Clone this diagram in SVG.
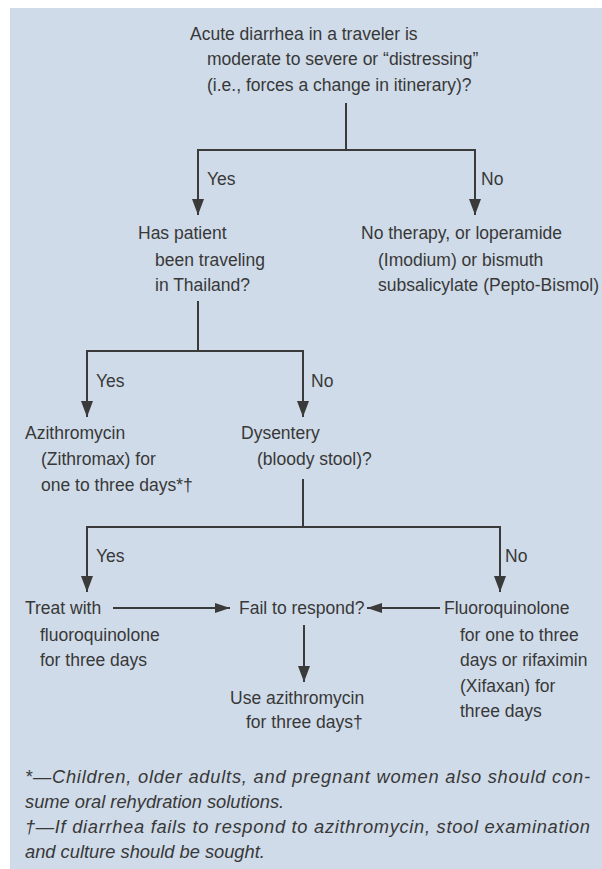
<svg xmlns="http://www.w3.org/2000/svg" width="602" height="869" viewBox="0 0 602 869">
<defs>
<style>
text{font-family:"Liberation Sans",Arial,sans-serif;font-size:17.5px;fill:#383838}
.fn{font-style:italic;font-size:18.3px}
.ln{fill:none;stroke:#3a3a3a;stroke-width:2}
</style>
<marker id="arrV" markerUnits="userSpaceOnUse" orient="auto" markerWidth="16" markerHeight="12" refX="16" refY="6" viewBox="0 0 16 12"><path d="M0,0 L16,6 L0,12 z" fill="#3a3a3a"/></marker>
<marker id="arrH" markerUnits="userSpaceOnUse" orient="auto" markerWidth="15" markerHeight="10" refX="15" refY="5" viewBox="0 0 15 10"><path d="M0,0 L15,5 L0,10 z" fill="#3a3a3a"/></marker>
</defs>
<rect x="0" y="0" width="602" height="869" fill="#ffffff"/>
<rect x="10" y="8" width="592" height="861" fill="#cfdbe8"/>

<g id="connectors">
<path class="ln" d="M346,103 V150"/>
<path class="ln" d="M346,150 H198 V215" marker-end="url(#arrV)"/>
<path class="ln" d="M346,150 H475 V215" marker-end="url(#arrV)"/>
<path class="ln" d="M198,301 V351"/>
<path class="ln" d="M198,351 H87 V417" marker-end="url(#arrV)"/>
<path class="ln" d="M198,351 H303 V417" marker-end="url(#arrV)"/>
<path class="ln" d="M303,479 V527"/>
<path class="ln" d="M303,527 H87 V592" marker-end="url(#arrV)"/>
<path class="ln" d="M303,527 H500 V592" marker-end="url(#arrV)"/>
<path class="ln" d="M113,608 H230" marker-end="url(#arrH)"/>
<path class="ln" d="M440,608 H367" marker-end="url(#arrH)"/>
<path class="ln" d="M304,625 V682" marker-end="url(#arrV)"/>
<text x="207" y="185">Yes</text>
<text x="481" y="185">No</text>
<text x="96" y="387">Yes</text>
<text x="311" y="387">No</text>
<text x="96" y="562">Yes</text>
<text x="505" y="562">No</text>
</g>

<g id="n-start">
<text x="190" y="40">Acute diarrhea in a traveler is</text>
<text x="207" y="65">moderate to severe or “distressing”</text>
<text x="207" y="91">(i.e., forces a change in itinerary)?</text>
</g>
<g id="n-thailand">
<text x="138" y="239">Has patient</text>
<text x="155" y="266">been traveling</text>
<text x="155" y="291">in Thailand?</text>
</g>
<g id="n-notherapy">
<text x="361" y="239">No therapy, or loperamide</text>
<text x="378" y="266">(Imodium) or bismuth</text>
<text x="378" y="291" textLength="221" lengthAdjust="spacingAndGlyphs">subsalicylate (Pepto-Bismol)</text>
</g>
<g id="n-azithro">
<text x="25" y="439">Azithromycin</text>
<text x="41" y="465">(Zithromax) for</text>
<text x="41" y="491">one to three days*†</text>
</g>
<g id="n-dysentery">
<text x="241" y="439">Dysentery</text>
<text x="257" y="465">(bloody stool)?</text>
</g>
<g id="n-treat">
<text x="25" y="614">Treat with</text>
<text x="40" y="641">fluoroquinolone</text>
<text x="40" y="666">for three days</text>
</g>
<g id="n-fail">
<text x="239" y="614">Fail to respond?</text>
</g>
<g id="n-fluoro">
<text x="444" y="614">Fluoroquinolone</text>
<text x="460" y="641">for one to three</text>
<text x="460" y="666">days or rifaximin</text>
<text x="460" y="692">(Xifaxan) for</text>
<text x="460" y="717">three days</text>
</g>
<g id="n-use">
<text x="230" y="704">Use azithromycin</text>
<text x="246" y="728">for three days†</text>
</g>

<g id="footnotes">
<text class="fn" x="25" y="783" textLength="565" lengthAdjust="spacing">*—Children, older adults, and pregnant women also should con-</text>
<text class="fn" x="25" y="808">sume oral rehydration solutions.</text>
<text class="fn" x="25" y="833" textLength="565" lengthAdjust="spacing">†—If diarrhea fails to respond to azithromycin, stool examination</text>
<text class="fn" x="25" y="858">and culture should be sought.</text>
</g>
</svg>
